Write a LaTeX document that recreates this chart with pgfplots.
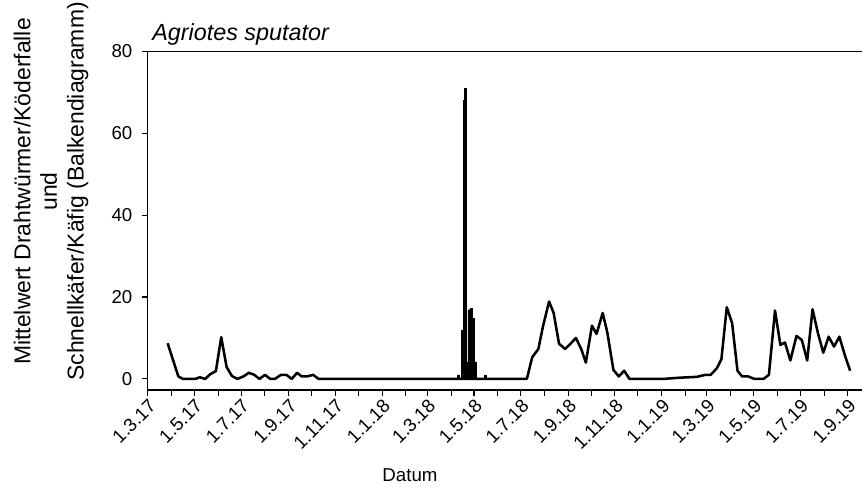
\documentclass[border=0pt]{standalone}
\usepackage{fontspec}
\setmainfont{Liberation Sans}
\usepackage{pgfplots}
\pgfplotsset{compat=1.18}
\usetikzlibrary{calc}

% days since 1.3.17 ; mean values
\pgfplotstableread{
x y
26 8.7
40 0.6
46 0
62 0
68 0.4
75 0
82 1.2
89 1.9
96 10.2
103 2.9
110 0.7
117 0
125 0.6
132 1.5
139 1
146 0
153 1
160 0
166 0
174 1
181 1
188 0
195 1.5
201 0.6
208 0.6
216 1
223 0
495 0
502 5.3
510 7.3
516 12.8
524 18.9
530 16.1
537 8.6
545 7.3
552 8.6
559 10
566 7.3
572 4
580 13
586 11
594 16.1
600 11.4
608 2.2
615 0.6
622 2
629 0
673 0
695 0.3
717 0.5
728 1
735 1
743 2.6
749 4.8
756 17.5
763 13.6
770 2
776 0.6
784 0.6
792 0
804 0
811 1
819 16.7
826 8.3
832 8.9
839 4.5
847 10.5
854 9.5
861 4.5
868 17
875 11.2
882 6.4
889 10.3
896 7.9
903 10.3
910 5.9
917 2
}\wireworms

\pgfplotstableread{
x y
405.7 1
410.6 12
412.8 68
414.9 71
416.8 4
419.2 16.9
421.9 17.3
424.6 14.8
427.5 4.2
440.3 1
}\beetles

\begin{document}
\begin{tikzpicture}
\begin{axis}[
  scale only axis, width=536pt, height=254pt,
  xmin=0, xmax=933, ymin=-2.7, ymax=80,
  axis x line*=bottom, axis y line*=left,
  x axis line style={-, line width=0.8pt},
  y axis line style={-, line width=0.8pt},
  clip=false,
  tick align=outside, major tick length=4.5pt, minor tick length=4.5pt,
  tick style={line width=0.8pt, black},
  xtick={0,61,122,184,245,306,365,426,487,549,610,671,730,791,852,914},
  xticklabels={1.3.17,1.5.17,1.7.17,1.9.17,1.11.17,1.1.18,1.3.18,1.5.18,1.7.18,1.9.18,1.11.18,1.1.19,1.3.19,1.5.19,1.7.19,1.9.19},
  minor xtick={31,92,153,214,275,337,396,457,518,579,640,702,761,822,883},
  ytick={0,20,40,60,80},
  /pgf/number format/assume math mode=true,
  ticklabel style={font=\fontsize{14}{16}\selectfont},
  yticklabel style={xshift=-3.5pt},
  xticklabel style={rotate=45, anchor=north east, inner sep=1pt},
]
\addplot[ybar, bar width=2.3, fill=black, draw=black, line width=0.3pt] table[x=x,y=y] {\beetles};
\addplot[black, line width=1.9pt, line join=round] table[x=x,y=y] {\wireworms};
\draw[line width=0.8pt] (rel axis cs:0,1) -- (rel axis cs:1,1);
\node[anchor=base west, yshift=8pt, font=\fontsize{17.5}{21}\selectfont\itshape] at (rel axis cs:0,1) {Agriotes sputator};
\node[rotate=90, align=center, font=\fontsize{17.2}{20}\selectfont] at ($(rel axis cs:0,0.5536)+(-72.5pt,0)$) {Mittelwert Drahtwürmer/Köderfalle\\und\\Schnellkäfer/Käfig (Balkendiagramm)};
\node[font=\fontsize{14}{16}\selectfont] at ($(rel axis cs:0,0)+(196.7pt,-63.75pt)$) {Datum};
\end{axis}
\pgfresetboundingbox
\path (-110.8pt,-78.75pt) rectangle (536.5pt,292.5pt);
\end{tikzpicture}
\end{document}
